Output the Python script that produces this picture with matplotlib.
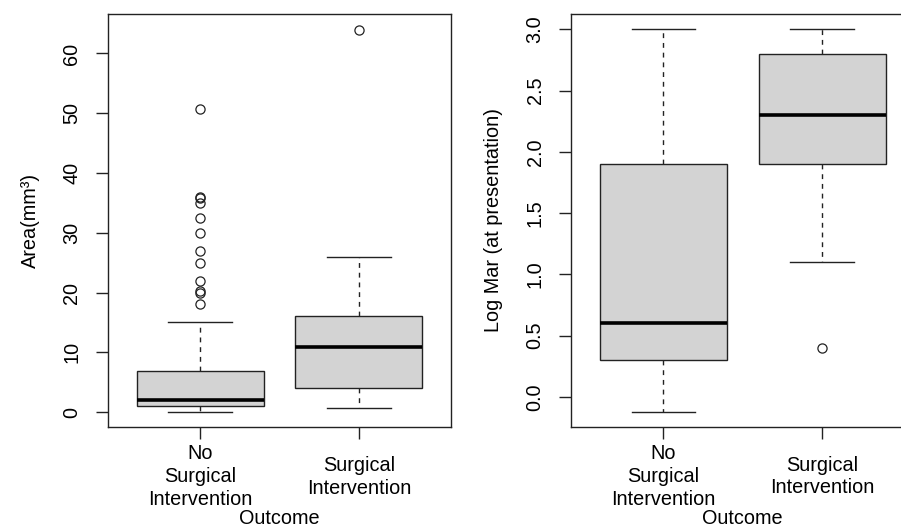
import matplotlib
matplotlib.use("Agg")
import matplotlib.pyplot as plt
import numpy as np

plt.rcParams["font.family"] = ["Liberation Sans", "DejaVu Sans"]

# group labels
groups = ["No\nSurgical\nIntervention", "Surgical\nIntervention"]

# left panel: area (mm^3)
area_whislo = [0.0, 0.65]
area_q1 = [1.0, 4.0]
area_med = [2.0, 10.8]
area_q3 = [6.8, 16.0]
area_whishi = [15.0, 26.0]
area_fliers = [
    [50.7, 36.0, 35.8, 35.0, 32.5, 30.0, 27.0, 25.0, 22.0, 20.3, 20.0, 18.0],
    [64.0],
]
area_ticks = [0, 10, 20, 30, 40, 50, 60]

# right panel: LogMAR at presentation
lmar_whislo = [-0.12, 1.1]
lmar_q1 = [0.3, 1.9]
lmar_med = [0.6, 2.3]
lmar_q3 = [1.9, 2.8]
lmar_whishi = [3.0, 3.0]
lmar_fliers = [[], [0.4]]
lmar_ticks = [0.0, 0.5, 1.0, 1.5, 2.0, 2.5, 3.0]

FS = 14.3
TICK_LEN = 8.6


def _stats(lo, q1, med, q3, hi, fliers):
    return [
        dict(whislo=a, q1=b, med=c, q3=d, whishi=e, fliers=f)
        for a, b, c, d, e, f in zip(lo, q1, med, q3, hi, fliers)
    ]


def _r_boxplot(ax, stats, ticks, fmt, ylabel):
    ax.bxp(
        stats,
        positions=[1, 2],
        widths=0.8,
        showfliers=True,
        patch_artist=True,
        boxprops=dict(facecolor="#d3d3d3", edgecolor="#222222", linewidth=1.0),
        medianprops=dict(color="black", linewidth=2.6, solid_capstyle="butt"),
        whiskerprops=dict(color="#222222", linewidth=1.0, linestyle=(0, (3.5, 3.5))),
        capprops=dict(color="#222222", linewidth=1.0),
        capwidths=0.4,
        flierprops=dict(marker="o", markersize=6.6, markerfacecolor="none",
                        markeredgecolor="#222222", markeredgewidth=0.9),
    )
    vals = [v for s in stats for v in (s["whislo"], s["whishi"], *s["fliers"])]
    lo, hi = min(vals), max(vals)
    pad = (hi - lo) * 0.04
    ax.set_ylim(lo - pad, hi + pad)
    ax.set_xlim(0.5 - 0.08, 2.5 + 0.08)

    ax.set_xticks([1, 2])
    ax.set_xticklabels(groups, fontsize=FS, linespacing=1.25)
    for lab in ax.get_xticklabels():
        lab.set_va("center")
    ax.tick_params(axis="x", length=TICK_LEN, width=1.0, pad=27, color="#222222")

    ax.set_yticks(ticks)
    ax.set_yticklabels([fmt.format(t) for t in ticks], fontsize=FS,
                       rotation=90, va="center", ha="center")
    ax.tick_params(axis="y", length=TICK_LEN, width=1.0, pad=17.5, color="#222222")

    for sp in ax.spines.values():
        sp.set_color("#222222")
        sp.set_linewidth(1.0)

    ax.set_xlabel("Outcome", fontsize=FS, va="center")
    ax.xaxis.set_label_coords(0.5, -0.221)
    ax.set_ylabel(ylabel, fontsize=FS, va="center", ha="center")
    ax.yaxis.set_label_coords(-78 / 343, 0.5)


fig = plt.figure(figsize=(9.01, 5.29), dpi=100)
ax1 = fig.add_axes([108 / 901, 1 - 427.3 / 529, 343 / 901, 413 / 529])
ax2 = fig.add_axes([571.3 / 901, 1 - 427.0 / 529, 343 / 901, 413 / 529])

_r_boxplot(ax1, _stats(area_whislo, area_q1, area_med, area_q3, area_whishi, area_fliers),
           area_ticks, "{:d}", "Area(mm³)")
_r_boxplot(ax2, _stats(lmar_whislo, lmar_q1, lmar_med, lmar_q3, lmar_whishi, lmar_fliers),
           lmar_ticks, "{:.1f}", "Log Mar (at presentation)")

fig.savefig("out.png", dpi=100)
